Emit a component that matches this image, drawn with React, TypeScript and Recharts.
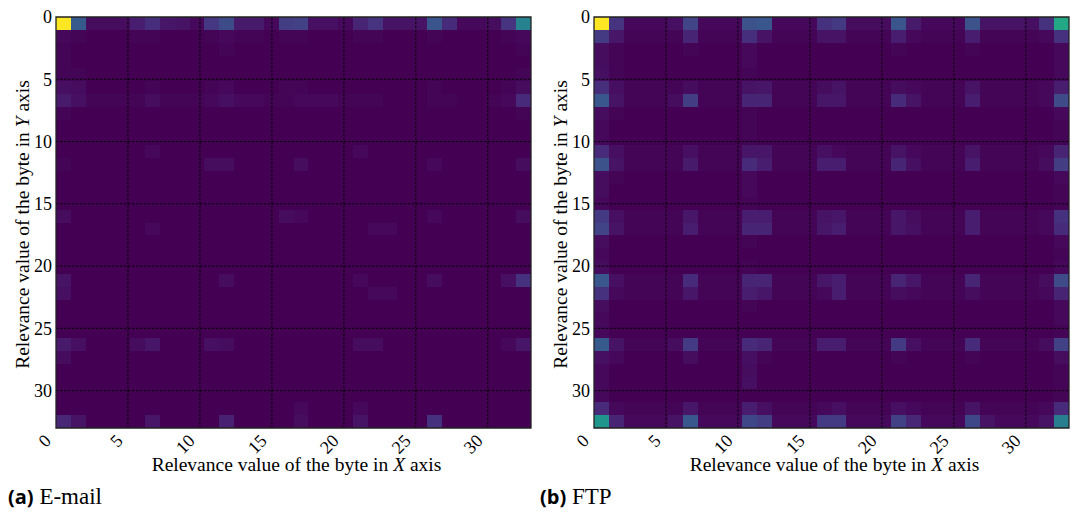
import { ScatterChart, Scatter, XAxis, YAxis, ReferenceLine, ReferenceArea } from 'recharts';

// 32 x 32 relevance maps, values in percent of the max
const EMAIL_ROWS: number[][] = [
  [100, 28, 3, 3, 3, 8, 13, 6, 5, 2, 16, 23, 7, 7, 2, 18, 19, 4, 4, 2, 10, 15, 5, 5, 5, 26, 12, 2, 2, 3, 15, 44],
  [2, 1, 0, 0, 0, 1, 1, 0, 0, 0, 1, 2, 1, 1, 0, 1, 1, 0, 0, 0, 1, 1, 0, 0, 0, 1, 0, 0, 0, 0, 1, 2],
  [1, 0, 0, 0, 0, 0, 0, 0, 0, 0, 0, 1, 0, 0, 0, 0, 0, 0, 0, 0, 0, 0, 0, 0, 0, 0, 0, 0, 0, 0, 0, 1],
  [1, 0, 0, 0, 0, 0, 0, 0, 0, 0, 0, 0, 0, 0, 0, 0, 0, 0, 0, 0, 0, 0, 0, 0, 0, 0, 0, 0, 0, 0, 0, 0],
  [1, 1, 0, 0, 0, 0, 0, 0, 0, 0, 0, 0, 0, 0, 0, 0, 0, 0, 0, 0, 0, 0, 0, 0, 0, 0, 0, 0, 0, 0, 0, 1],
  [4, 3, 0, 0, 0, 0, 1, 0, 0, 0, 1, 2, 0, 0, 0, 1, 1, 0, 0, 0, 0, 0, 0, 0, 0, 1, 0, 0, 0, 0, 1, 3],
  [7, 4, 1, 1, 1, 1, 3, 1, 1, 1, 2, 4, 2, 2, 1, 1, 2, 2, 2, 1, 1, 1, 0, 0, 0, 1, 1, 0, 0, 1, 2, 12],
  [1, 0, 0, 0, 0, 0, 0, 0, 0, 0, 0, 0, 0, 0, 0, 0, 0, 0, 0, 0, 0, 0, 0, 0, 0, 0, 0, 0, 0, 0, 0, 1],
  [0, 0, 0, 0, 0, 0, 0, 0, 0, 0, 0, 0, 0, 0, 0, 0, 0, 0, 0, 0, 0, 0, 0, 0, 0, 0, 0, 0, 0, 0, 0, 0],
  [0, 0, 0, 0, 0, 0, 0, 0, 0, 0, 0, 0, 0, 0, 0, 0, 0, 0, 0, 0, 0, 0, 0, 0, 0, 0, 0, 0, 0, 0, 0, 0],
  [0, 0, 0, 0, 0, 0, 2, 0, 0, 0, 0, 0, 0, 0, 0, 0, 0, 0, 0, 0, 2, 0, 0, 0, 0, 0, 0, 0, 0, 0, 0, 0],
  [1, 0, 0, 0, 0, 0, 0, 0, 0, 0, 3, 3, 0, 0, 0, 0, 3, 0, 0, 0, 0, 0, 0, 0, 0, 2, 0, 0, 0, 0, 0, 3],
  [0, 0, 0, 0, 0, 0, 0, 0, 0, 0, 0, 0, 0, 0, 0, 0, 0, 0, 0, 0, 0, 0, 0, 0, 0, 0, 0, 0, 0, 0, 0, 0],
  [0, 0, 0, 0, 0, 0, 0, 0, 0, 0, 0, 0, 0, 0, 0, 0, 0, 0, 0, 0, 0, 0, 0, 0, 0, 0, 0, 0, 0, 0, 0, 0],
  [0, 0, 0, 0, 0, 0, 0, 0, 0, 0, 0, 0, 0, 0, 0, 0, 0, 0, 0, 0, 0, 0, 0, 0, 0, 0, 0, 0, 0, 0, 0, 0],
  [3, 0, 0, 0, 0, 0, 0, 0, 0, 0, 0, 0, 0, 0, 0, 3, 2, 0, 0, 0, 0, 0, 0, 0, 0, 2, 0, 0, 0, 0, 0, 3],
  [0, 0, 0, 0, 0, 0, 2, 0, 0, 0, 0, 0, 0, 0, 0, 0, 0, 0, 0, 0, 0, 2, 2, 0, 0, 0, 0, 0, 0, 0, 0, 0],
  [0, 0, 0, 0, 0, 0, 0, 0, 0, 0, 0, 0, 0, 0, 0, 0, 0, 0, 0, 0, 0, 0, 0, 0, 0, 0, 0, 0, 0, 0, 0, 0],
  [0, 0, 0, 0, 0, 0, 0, 0, 0, 0, 0, 0, 0, 0, 0, 0, 0, 0, 0, 0, 0, 0, 0, 0, 0, 0, 0, 0, 0, 0, 0, 0],
  [0, 0, 0, 0, 0, 0, 0, 0, 0, 0, 0, 0, 0, 0, 0, 0, 0, 0, 0, 0, 0, 0, 0, 0, 0, 0, 0, 0, 0, 0, 0, 0],
  [5, 0, 0, 0, 0, 0, 0, 0, 0, 0, 0, 3, 0, 0, 0, 0, 0, 0, 0, 0, 2, 0, 0, 0, 0, 3, 0, 0, 0, 0, 4, 14],
  [4, 0, 0, 0, 0, 0, 0, 0, 0, 0, 0, 0, 0, 0, 0, 0, 0, 0, 0, 0, 0, 2, 2, 0, 0, 0, 0, 0, 0, 0, 0, 0],
  [0, 0, 0, 0, 0, 0, 0, 0, 0, 0, 0, 0, 0, 0, 0, 0, 0, 0, 0, 0, 0, 0, 0, 0, 0, 0, 0, 0, 0, 0, 0, 0],
  [0, 0, 0, 0, 0, 0, 0, 0, 0, 0, 0, 0, 0, 0, 0, 0, 0, 0, 0, 0, 0, 0, 0, 0, 0, 0, 0, 0, 0, 0, 0, 0],
  [0, 0, 0, 0, 0, 0, 0, 0, 0, 0, 0, 0, 0, 0, 0, 0, 0, 0, 0, 0, 0, 0, 0, 0, 0, 0, 0, 0, 0, 0, 0, 0],
  [7, 4, 0, 0, 0, 3, 6, 0, 0, 0, 4, 3, 0, 0, 0, 0, 0, 0, 0, 0, 3, 3, 0, 0, 0, 0, 0, 0, 0, 0, 2, 6],
  [3, 0, 0, 0, 0, 0, 0, 0, 0, 0, 0, 0, 0, 0, 0, 0, 0, 0, 0, 0, 0, 0, 0, 0, 0, 0, 0, 0, 0, 0, 0, 0],
  [0, 0, 0, 0, 0, 0, 0, 0, 0, 0, 0, 0, 0, 0, 0, 0, 0, 0, 0, 0, 0, 0, 0, 0, 0, 0, 0, 0, 0, 0, 0, 0],
  [0, 0, 0, 0, 0, 0, 0, 0, 0, 0, 0, 0, 0, 0, 0, 0, 0, 0, 0, 0, 0, 0, 0, 0, 0, 0, 0, 0, 0, 0, 0, 0],
  [0, 0, 0, 0, 0, 0, 0, 0, 0, 0, 0, 0, 0, 0, 0, 0, 0, 0, 0, 0, 0, 0, 0, 0, 0, 0, 0, 0, 0, 0, 0, 0],
  [0, 0, 0, 0, 0, 0, 0, 0, 0, 0, 0, 0, 0, 0, 0, 0, 2, 0, 0, 0, 2, 0, 0, 0, 0, 0, 0, 0, 0, 0, 0, 0],
  [11, 5, 0, 0, 0, 0, 6, 0, 0, 0, 0, 9, 0, 0, 0, 0, 3, 0, 0, 0, 5, 0, 0, 0, 0, 14, 0, 0, 0, 0, 0, 0],
];

const FTP_ROWS: number[][] = [
  [100, 15, 2, 2, 2, 4, 20, 2, 2, 2, 25, 27, 2, 2, 2, 14, 17, 3, 3, 3, 26, 7, 2, 2, 2, 25, 5, 5, 5, 4, 14, 60],
  [17, 6, 1, 1, 1, 1, 10, 1, 1, 1, 13, 5, 1, 1, 1, 5, 5, 1, 1, 1, 8, 2, 1, 1, 1, 8, 1, 1, 1, 1, 2, 14],
  [3, 1, 0, 0, 0, 0, 1, 0, 0, 0, 2, 0, 0, 0, 0, 0, 0, 0, 0, 0, 1, 0, 0, 0, 0, 1, 0, 0, 0, 0, 0, 2],
  [3, 1, 0, 0, 0, 0, 0, 0, 0, 0, 2, 0, 0, 0, 0, 0, 0, 0, 0, 0, 0, 0, 0, 0, 0, 0, 0, 0, 0, 0, 0, 2],
  [4, 1, 0, 0, 0, 0, 0, 0, 0, 0, 1, 0, 0, 0, 0, 0, 0, 0, 0, 0, 0, 0, 0, 0, 0, 0, 0, 0, 0, 0, 0, 2],
  [13, 4, 1, 1, 1, 1, 3, 1, 1, 1, 5, 6, 1, 1, 1, 3, 5, 1, 1, 1, 3, 2, 1, 1, 1, 5, 1, 1, 1, 1, 2, 8],
  [27, 5, 1, 1, 1, 3, 18, 1, 1, 1, 10, 10, 1, 1, 1, 6, 6, 1, 1, 1, 12, 5, 1, 1, 1, 8, 1, 1, 1, 1, 2, 22],
  [3, 1, 0, 0, 0, 0, 0, 0, 0, 0, 1, 0, 0, 0, 0, 0, 0, 0, 0, 0, 0, 0, 0, 0, 0, 0, 0, 0, 0, 0, 0, 2],
  [2, 0, 0, 0, 0, 0, 0, 0, 0, 0, 1, 0, 0, 0, 0, 0, 0, 0, 0, 0, 0, 0, 0, 0, 0, 0, 0, 0, 0, 0, 0, 1],
  [2, 0, 0, 0, 0, 0, 0, 0, 0, 0, 1, 0, 0, 0, 0, 0, 0, 0, 0, 0, 0, 0, 0, 0, 0, 0, 0, 0, 0, 0, 0, 1],
  [12, 4, 1, 1, 1, 1, 4, 1, 1, 1, 6, 6, 1, 1, 1, 4, 2, 1, 1, 1, 5, 2, 1, 1, 1, 5, 1, 1, 1, 1, 2, 10],
  [25, 5, 1, 1, 1, 1, 7, 1, 1, 1, 12, 8, 1, 1, 1, 8, 8, 1, 1, 1, 10, 4, 1, 1, 1, 8, 1, 1, 1, 1, 3, 18],
  [3, 1, 0, 0, 0, 0, 0, 0, 0, 0, 2, 0, 0, 0, 0, 0, 0, 0, 0, 0, 0, 0, 0, 0, 0, 0, 0, 0, 0, 0, 0, 2],
  [3, 0, 0, 0, 0, 0, 0, 0, 0, 0, 2, 0, 0, 0, 0, 0, 0, 0, 0, 0, 0, 0, 0, 0, 0, 0, 0, 0, 0, 0, 0, 1],
  [2, 0, 0, 0, 0, 0, 0, 0, 0, 0, 1, 0, 0, 0, 0, 0, 0, 0, 0, 0, 0, 0, 0, 0, 0, 0, 0, 0, 0, 0, 0, 1],
  [17, 4, 1, 1, 1, 1, 6, 1, 1, 1, 8, 8, 1, 1, 1, 5, 6, 1, 1, 1, 6, 3, 1, 1, 1, 8, 1, 1, 1, 1, 2, 14],
  [20, 5, 1, 1, 1, 1, 8, 1, 1, 1, 10, 10, 1, 1, 1, 6, 8, 1, 1, 1, 6, 4, 1, 1, 1, 8, 1, 1, 1, 1, 2, 12],
  [3, 0, 0, 0, 0, 0, 0, 0, 0, 0, 1, 0, 0, 0, 0, 0, 0, 0, 0, 0, 0, 0, 0, 0, 0, 0, 0, 0, 0, 0, 0, 2],
  [2, 0, 0, 0, 0, 0, 0, 0, 0, 0, 0, 0, 0, 0, 0, 0, 0, 0, 0, 0, 0, 0, 0, 0, 0, 0, 0, 0, 0, 0, 0, 1],
  [3, 0, 0, 0, 0, 0, 0, 0, 0, 0, 1, 0, 0, 0, 0, 0, 0, 0, 0, 0, 0, 0, 0, 0, 0, 0, 0, 0, 0, 0, 0, 2],
  [27, 4, 1, 1, 1, 1, 12, 1, 1, 1, 10, 10, 1, 1, 1, 6, 8, 1, 1, 1, 10, 6, 1, 1, 1, 10, 1, 1, 1, 1, 3, 22],
  [14, 2, 1, 1, 1, 1, 6, 1, 1, 1, 8, 6, 1, 1, 1, 2, 8, 1, 1, 1, 3, 2, 1, 1, 1, 3, 1, 1, 1, 1, 2, 10],
  [3, 0, 0, 0, 0, 0, 0, 0, 0, 0, 1, 0, 0, 0, 0, 0, 0, 0, 0, 0, 0, 0, 0, 0, 0, 0, 0, 0, 0, 0, 0, 2],
  [2, 0, 0, 0, 0, 0, 0, 0, 0, 0, 0, 0, 0, 0, 0, 0, 0, 0, 0, 0, 0, 0, 0, 0, 0, 0, 0, 0, 0, 0, 0, 2],
  [2, 0, 0, 0, 0, 0, 0, 0, 0, 0, 0, 0, 0, 0, 0, 0, 0, 0, 0, 0, 0, 0, 0, 0, 0, 0, 0, 0, 0, 0, 0, 1],
  [28, 5, 1, 1, 1, 3, 17, 1, 1, 1, 12, 10, 1, 1, 1, 8, 8, 1, 1, 1, 17, 4, 1, 1, 1, 12, 1, 1, 1, 1, 3, 19],
  [4, 2, 0, 0, 0, 0, 3, 0, 0, 0, 4, 1, 0, 0, 0, 0, 0, 0, 0, 0, 1, 0, 0, 0, 0, 1, 0, 0, 0, 0, 0, 3],
  [2, 0, 0, 0, 0, 0, 0, 0, 0, 0, 3, 0, 0, 0, 0, 0, 0, 0, 0, 0, 0, 0, 0, 0, 0, 0, 0, 0, 0, 0, 0, 1],
  [2, 0, 0, 0, 0, 0, 0, 0, 0, 0, 4, 0, 0, 0, 0, 0, 0, 0, 0, 0, 0, 0, 0, 0, 0, 0, 0, 0, 0, 0, 0, 1],
  [2, 0, 0, 0, 0, 0, 0, 0, 0, 0, 0, 0, 0, 0, 0, 0, 0, 0, 0, 0, 0, 0, 0, 0, 0, 0, 0, 0, 0, 0, 0, 1],
  [12, 2, 1, 1, 1, 1, 6, 1, 1, 1, 8, 4, 1, 1, 1, 2, 4, 1, 1, 1, 4, 2, 1, 1, 1, 5, 1, 1, 1, 1, 2, 12],
  [52, 10, 2, 2, 2, 5, 27, 2, 2, 2, 21, 18, 2, 2, 2, 17, 17, 2, 2, 2, 19, 11, 2, 2, 2, 21, 5, 2, 2, 2, 5, 42],
];

const TICKS = [0, 5, 10, 15, 20, 25, 30];
const GRID_LINES = [5, 10, 15, 20, 25, 30];
const AXIS_MAX = 33;
const CELLS = 32;

// viridis colour stops at 0, 0.05, ... 1
const VIRIDIS = [
  '#440154', '#471365', '#482475', '#463480', '#414487', '#3b528b', '#355f8d',
  '#2f6c8e', '#2a788e', '#25848e', '#21918c', '#1e9c89', '#22a884', '#2fb47c',
  '#44bf70', '#5ec962', '#7ad151', '#9bd93c', '#bddf26', '#dfe318', '#fde725',
];

function hexToRgb(h: string) {
  return [1, 3, 5].map((i) => parseInt(h.slice(i, i + 2), 16));
}

function viridis(t: number) {
  const s = Math.max(0, Math.min(1, t)) * (VIRIDIS.length - 1);
  const i = Math.min(Math.floor(s), VIRIDIS.length - 2);
  const f = s - i;
  const a = hexToRgb(VIRIDIS[i]);
  const b = hexToRgb(VIRIDIS[i + 1]);
  const c = a.map((v, k) => Math.round(v + (b[k] - v) * f));
  return `rgb(${c[0]},${c[1]},${c[2]})`;
}

const CHART_W = 540;
const CHART_H = 482;
const MARGIN = { top: 17, right: 9, left: 10, bottom: 12 };
const Y_AXIS_W = 46;
const X_AXIS_H = 42;
const PLOT_W = CHART_W - MARGIN.left - MARGIN.right - Y_AXIS_W;
const PLOT_H = CHART_H - MARGIN.top - MARGIN.bottom - X_AXIS_H;
const CELL_W = PLOT_W / CELLS;
const CELL_H = PLOT_H / CELLS;

const FONT = '"Liberation Serif", "DejaVu Serif", serif';
const SANS = '"Open Sans", "DejaVu Sans", sans-serif';

function toPoints(rows: number[][]) {
  const unit = AXIS_MAX / CELLS;
  return rows.flatMap((row, r) =>
    row.map((v, c) => ({ x: (c + 0.5) * unit, y: (r + 0.5) * unit, v })),
  );
}

const HeatCell = (props: any) => {
  const { cx, cy, payload } = props;
  return (
    <rect
      x={cx - CELL_W / 2}
      y={cy - CELL_H / 2}
      width={CELL_W + 1}
      height={CELL_H + 1}
      fill={viridis(payload.v / 100)}
      shapeRendering="crispEdges"
    />
  );
};

const XTick = (props: any) => {
  const { x, y, payload } = props;
  return (
    <g transform={`translate(${x - 4},${y + 14})`}>
      <text x={0} y={0} textAnchor="end" transform="rotate(-45)" style={{ fontSize: 18, fontFamily: FONT }} fill="#000">
        {payload.value}
      </text>
    </g>
  );
};

const XTitle = (props: any) => {
  const vb = props.viewBox;
  return (
    <text x={vb.x + vb.width / 2 + 3} y={vb.y + 43} textAnchor="middle" style={{ fontSize: 19.5, fontFamily: FONT }} fill="#000">
      Relevance value of the byte in <tspan fontStyle="italic">X</tspan> axis
    </text>
  );
};

const YTitle = (props: any) => {
  const vb = props.viewBox;
  const cx = vb.x + 19;
  const cy = vb.y + vb.height / 2 + 2;
  return (
    <text x={cx} y={cy} textAnchor="middle" transform={`rotate(-90 ${cx} ${cy})`} style={{ fontSize: 19.5, fontFamily: FONT }} fill="#000">
      Relevance value of the byte in <tspan fontStyle="italic">Y</tspan> axis
    </text>
  );
};

function HeatPanel({ rows }: { rows: number[][] }) {
  const data = toPoints(rows);
  return (
    <ScatterChart width={CHART_W} height={CHART_H} margin={MARGIN} style={{ fontFamily: FONT }}>
      <XAxis
        type="number"
        dataKey="x"
        domain={[0, AXIS_MAX]}
        ticks={TICKS}
        allowDataOverflow
        height={X_AXIS_H}
        tickLine={false}
        axisLine={false}
        tickSize={0}
        tickMargin={0}
        tick={<XTick />}
        interval={0}
        label={<XTitle />}
      />
      <YAxis
        type="number"
        dataKey="y"
        domain={[0, AXIS_MAX]}
        ticks={TICKS}
        reversed
        allowDataOverflow
        width={Y_AXIS_W}
        tickLine={false}
        axisLine={false}
        tickSize={0}
        tickMargin={4}
        interval={0}
        tick={{ fontSize: 18, fontFamily: FONT, fill: '#000', style: { fontFamily: FONT } }}
        label={<YTitle />}
      />
      <Scatter data={data} shape={<HeatCell />} isAnimationActive={false} />
      {GRID_LINES.map((g) => (
        <ReferenceLine key={`vx${g}`} x={g} stroke="#000" strokeOpacity={0.9} strokeWidth={1} strokeDasharray="2.5 1.5" zIndex={700} />
      ))}
      {GRID_LINES.map((g) => (
        <ReferenceLine key={`hy${g}`} y={g} stroke="#000" strokeOpacity={0.9} strokeWidth={1} strokeDasharray="2.5 1.5" zIndex={700} />
      ))}
      <ReferenceArea x1={0} x2={AXIS_MAX} y1={0} y2={AXIS_MAX} fill="none" fillOpacity={0} stroke="#222" strokeWidth={1.3} zIndex={710} />
    </ScatterChart>
  );
}

const Caption = ({ tag, text, left }: { tag: string; text: string; left: number }) => (
  <div style={{ position: 'absolute', left, top: 484, whiteSpace: 'nowrap', lineHeight: '26px' }}>
    <span style={{ fontFamily: SANS, fontWeight: 700, fontSize: 20 }}>{tag}</span>
    <span style={{ fontFamily: FONT, fontSize: 23 }}> {text}</span>
  </div>
);

export default function App() {
  return (
    <div style={{ position: 'absolute', left: 0, top: 0, width: 1076, height: 520, background: '#fff', fontFamily: FONT }}>
      <div style={{ position: 'absolute', left: 0, top: 0 }}>
        <HeatPanel rows={EMAIL_ROWS} />
      </div>
      <div style={{ position: 'absolute', left: 538, top: 0 }}>
        <HeatPanel rows={FTP_ROWS} />
      </div>
      <Caption tag="(a)" text="E-mail" left={8} />
      <Caption tag="(b)" text="FTP" left={540} />
    </div>
  );
}
